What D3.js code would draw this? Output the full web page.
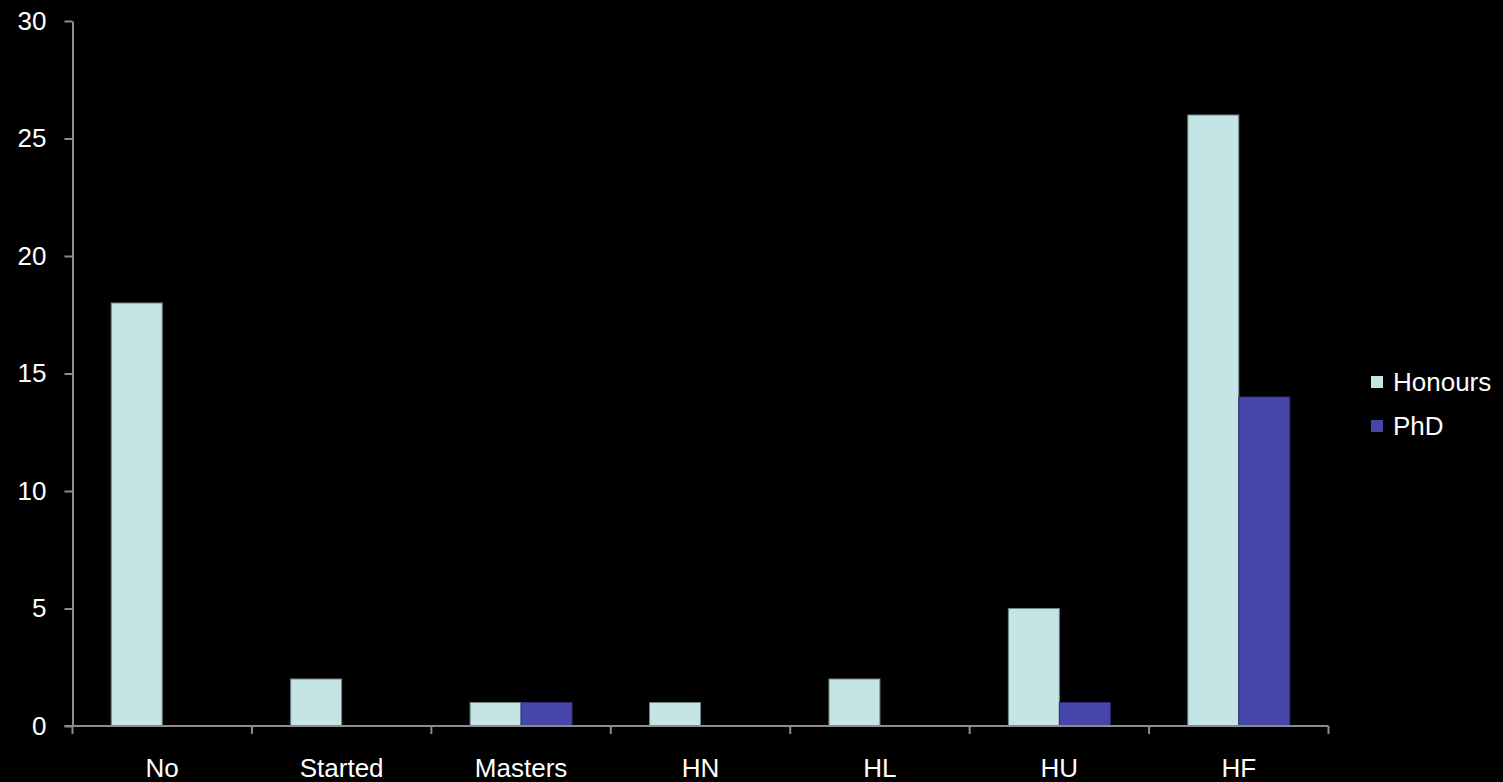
<!DOCTYPE html>
<html>
<head>
<meta charset="utf-8">
<script src="https://cdn.jsdelivr.net/npm/d3@7"></script>
<style>
  html, body { margin: 0; padding: 0; background: #000; }
  svg { display: block; }
  text { font-family: "Liberation Sans", Arial, sans-serif; fill: #fff; }
</style>
</head>
<body>
<svg id="chart" width="1503" height="782"></svg>
<script>
// Category labels along the x axis
const categories = ["No", "Started", "Masters", "HN", "HL", "HU", "HF"];
// Series values per category
const honours = [18, 2, 1, 1, 2, 5, 26];
const phd = [0, 0, 1, 0, 0, 1, 14];
// Series names and fills
const seriesNames = ["Honours", "PhD"];
const seriesColors = ["#c4e4e6", "#4646a8"];
// Y-axis tick values
const yTicks = [0, 5, 10, 15, 20, 25, 30];

const svg = d3.select("#chart");
const plotLeft = 72.5, plotRight = 1328.5, plotTop = 21, plotBottom = 726;
const fontSize = 26;

const x = d3.scaleBand().domain(categories).range([plotLeft, plotRight]).padding(0);
const inner = d3.scaleBand().domain(seriesNames).range([0, x.bandwidth()]).paddingInner(0).paddingOuter(0.76);
const y = d3.scaleLinear().domain([0, 30]).range([plotBottom, plotTop]);

const series = [honours, phd];
const rows = [];
categories.forEach((c, i) => {
  seriesNames.forEach((s, j) => {
    rows.push({ cat: c, name: s, value: series[j][i], color: seriesColors[j] });
  });
});

// Bars
svg.append("g").selectAll("rect")
  .data(rows.filter(d => d.value > 0))
  .join("rect")
  .attr("x", d => x(d.cat) + inner(d.name))
  .attr("y", d => y(d.value))
  .attr("width", inner.bandwidth())
  .attr("height", d => y(0) - y(d.value))
  .attr("fill", d => d.color)
  .attr("stroke", d => d.name === "PhD" ? "#2e2e7a" : "#6f8485")
  .attr("stroke-width", 1);

// Y axis
const yAxis = svg.append("g")
  .attr("transform", `translate(${plotLeft},0)`)
  .call(d3.axisLeft(y).tickValues(yTicks).tickSize(8).tickSizeOuter(0).tickPadding(18));
yAxis.select(".domain").attr("stroke", "#8c8c8c").attr("stroke-width", 2);
yAxis.selectAll(".tick line").attr("stroke", "#8c8c8c").attr("stroke-width", 2);
yAxis.selectAll(".tick text").attr("font-size", fontSize).attr("fill", "#fff")
  .style("font-family", "'Liberation Sans', Arial, sans-serif");

// X axis: ticks at category boundaries, labels centred in bands
const xAxisG = svg.append("g").attr("transform", `translate(0,${plotBottom})`);
xAxisG.append("line")
  .attr("x1", plotLeft - 8).attr("x2", plotRight)
  .attr("y1", 0).attr("y2", 0)
  .attr("stroke", "#8c8c8c").attr("stroke-width", 2);
const boundaries = categories.map(c => x(c)).concat([x(categories[categories.length - 1]) + x.bandwidth()]);
xAxisG.selectAll("line.b")
  .data(boundaries)
  .join("line")
  .attr("class", "b")
  .attr("x1", d => d).attr("x2", d => d)
  .attr("y1", 0).attr("y2", 8)
  .attr("stroke", "#8c8c8c").attr("stroke-width", 2);
xAxisG.selectAll("text")
  .data(categories)
  .join("text")
  .attr("x", d => x(d) + x.bandwidth() / 2)
  .attr("y", 51)
  .attr("text-anchor", "middle")
  .attr("font-size", fontSize)
  .text(d => d);

// Legend
const legend = svg.append("g").attr("transform", "translate(1371,376)");
const li = legend.selectAll("g").data(seriesNames).join("g")
  .attr("transform", (d, i) => `translate(0,${i * 44})`);
li.append("rect").attr("width", 12).attr("height", 12)
  .attr("fill", (d, i) => seriesColors[i]);
li.append("text").attr("x", 22).attr("y", 15).attr("font-size", fontSize).text(d => d);
</script>
</body>
</html>
